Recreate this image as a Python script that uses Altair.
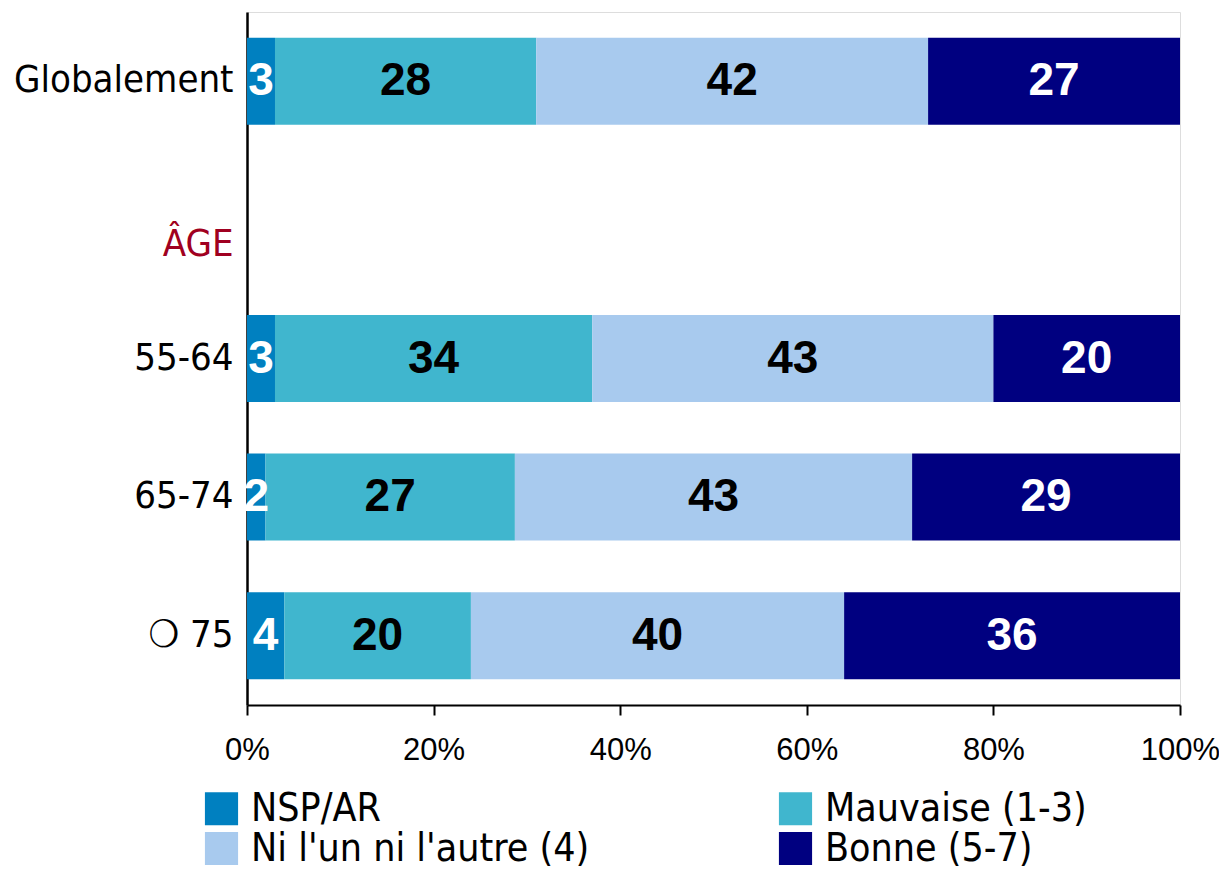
import altair as alt
import pandas as pd

rows = ["Globalement", "ÂGE", "55-64", "65-74", "❍ 75"]
categories = ["NSP/AR", "Mauvaise (1-3)", "Ni l'un ni l'autre (4)", "Bonne (5-7)"]
colors = ["#0080C0", "#40B6CE", "#A8CAEE", "#000080"]

nsp = [3, None, 3, 2, 4]
mauvaise = [28, None, 34, 27, 20]
ni = [42, None, 43, 43, 40]
bonne = [27, None, 20, 29, 36]
series = [nsp, mauvaise, ni, bonne]

records = []
for i, r in enumerate(rows):
    for j, c in enumerate(categories):
        v = series[j][i]
        if v is None:
            continue
        records.append({"row": r, "cat": c, "order": j, "value": v})
df = pd.DataFrame(records)

NARROW = "Liberation Sans Narrow, Arial Narrow, DejaVu Sans Condensed, sans-serif"

base = (
    alt.Chart(df)
    .transform_joinaggregate(total="sum(value)", groupby=["row"])
    .transform_calculate(pct="datum.value / datum.total")
    .transform_stack(as_=["start", "end"], stack="pct", groupby=["row"],
                     sort=[alt.SortField("order", order="ascending")])
    .transform_calculate(mid="(datum.start + datum.end) / 2")
)

yscale = alt.Scale(domain=rows, paddingInner=0.372, paddingOuter=0.186)

bars = base.mark_bar().encode(
    x=alt.X("start:Q",
            scale=alt.Scale(domain=[0, 1], nice=False),
            axis=alt.Axis(values=[0, 0.2, 0.4, 0.6, 0.8, 1.0], format=".0%",
                          title=None, grid=False, tickSize=10, tickWidth=2,
                          tickColor="black", domainColor="black", domainWidth=2,
                          labelFont="Liberation Sans", labelFontSize=31,
                          labelFlush=False, labelOverlap=False,
                          labelColor="black", labelPadding=20)),
    x2="end:Q",
    y=alt.Y("row:N", scale=yscale,
            axis=alt.Axis(title=None, ticks=False, domainColor="black",
                          domainWidth=2.5, labelFont=NARROW, labelFontSize=38,
                          labelLimit=0, labelPadding=14,
                          labelColor=alt.condition("datum.value == 'ÂGE'",
                                                   alt.value("#A00020"),
                                                   alt.value("black")),
                          labelOffset=alt.condition("datum.value == 'ÂGE'",
                                                    alt.value(25),
                                                    alt.value(0)))),
    color=alt.Color("cat:N",
                    scale=alt.Scale(domain=categories, range=colors),
                    legend=alt.Legend(title=None, orient="none", legendX=-45,
                                      legendY=777, columns=2, direction="horizontal",
                                      symbolType="square", symbolSize=1100,
                                      symbolStrokeWidth=0, labelFont=NARROW,
                                      labelFontSize=39, labelColor="black",
                                      labelLimit=0, labelOffset=10,
                                      columnPadding=186, rowPadding=0)),
)

labels = base.mark_text(font="Liberation Sans", fontWeight="bold",
                        fontSize=46, baseline="middle", align="center").encode(
    x=alt.X("mid:Q"),
    y=alt.Y("row:N", scale=yscale),
    text=alt.Text("value:Q"),
    color=alt.condition("datum.order == 1 || datum.order == 2",
                        alt.value("black"), alt.value("white")),
)

chart = (
    alt.layer(bars, labels)
    .properties(width=933, height=693,
                autosize=alt.AutoSizeParams(type="none"),
                padding={"left": 239, "top": 4, "right": 39, "bottom": 167})
    .configure_view(stroke=None)
    .configure(background="white")
)

chart.save("out.html", embed_options={"renderer": "svg", "actions": False})
